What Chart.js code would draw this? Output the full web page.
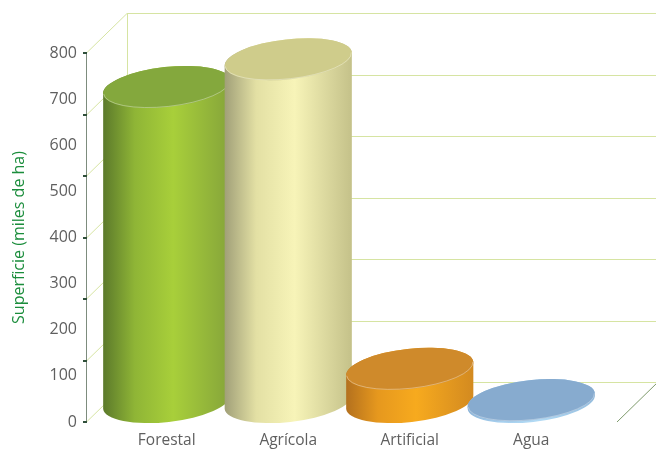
<!DOCTYPE html>
<html>
<head>
<meta charset="utf-8">
<script src="https://cdn.jsdelivr.net/npm/chart.js@4.4.1/dist/chart.umd.min.js"></script>
<style>
  body { margin: 0; background: #fff; }
</style>
</head>
<body>
<canvas id="chart" width="656" height="450"></canvas>
<script>
// data
const categories = ['Forestal', 'Agrícola', 'Artificial', 'Agua'];
const superficie = [683, 743, 72, 4];   // miles de ha
const yMax = 800;
const yStep = 100;
const gridSteps = 6;                     // back-wall grid divisions

// cylinder colours: [left, mid, highlight, right] for the side, plus the lid
const sideColors = [
    ['#5b792b', '#8fb536', '#a8cf3a', '#85a43a'],
    ['#a09f78', '#e3e0a4', '#f7f4b8', '#c4c189'],
    ['#b3701e', '#e6981e', '#f7aa1e', '#d38a20'],
    ['#8db6da', '#a6cfee', '#b2daf4', '#96bfe0']
];
const topColors = ['#84a83d', '#cfcc8b', '#cf8a2b', '#87abcf'];

const depthX = 41, depthY = 40;   // 3d offset of the back wall
const ry = 20;                     // half height of the ellipses
const tilt = -0.11;                // perspective tilt of the ellipses

function line(ctx, x1, y1, x2, y2) {
    ctx.beginPath();
    ctx.moveTo(x1, y1);
    ctx.lineTo(x2, y2);
    ctx.stroke();
}

function drawCylinder(ctx, cx, yTop, yBase, rx, side, lid) {
    const cTop = yTop - ry, cBot = yBase - ry;
    const dx = rx * Math.cos(tilt), dy = rx * Math.sin(tilt);

    const g = ctx.createLinearGradient(cx - rx, 0, cx + rx, 0);
    g.addColorStop(0, side[0]);
    g.addColorStop(0.25, side[1]);
    g.addColorStop(0.55, side[2]);
    g.addColorStop(1, side[3]);

    ctx.beginPath();
    ctx.moveTo(cx - dx, cTop - dy);
    ctx.lineTo(cx - dx, cBot - dy);
    ctx.ellipse(cx, cBot, rx, ry, tilt, Math.PI, 0, true);
    ctx.lineTo(cx + dx, cTop + dy);
    ctx.ellipse(cx, cTop, rx, ry, tilt, 0, Math.PI, true);
    ctx.closePath();
    ctx.fillStyle = g;
    ctx.fill();

    ctx.beginPath();
    ctx.ellipse(cx, cTop, rx, ry, tilt, 0, Math.PI * 2);
    ctx.fillStyle = lid;
    ctx.fill();

    // light rim on the front edge of the lid
    ctx.beginPath();
    ctx.ellipse(cx, cTop, rx - 0.5, ry - 0.5, tilt, 0, Math.PI);
    ctx.strokeStyle = 'rgba(255,255,255,0.35)';
    ctx.lineWidth = 1;
    ctx.stroke();
}

const cylinderPlugin = {
    id: 'cylinders',
    beforeDatasetsDraw(chart) {
        const { ctx, chartArea: a, scales: { y } } = chart;
        const axisX = a.left - 20, rightX = a.right + 25;
        const y0 = y.getPixelForValue(0), yTop = y.getPixelForValue(yMax);
        ctx.save();
        ctx.lineWidth = 1;
        ctx.strokeStyle = '#d6e4a2';
        for (let k = 0; k <= gridSteps; k++) {
            const py = Math.round(y.getPixelForValue(yMax * k / gridSteps)) + 0.5;
            line(ctx, axisX, py, axisX + depthX, py - depthY);
            line(ctx, axisX + depthX, py - depthY, rightX + depthX + 10, py - depthY);
        }
        line(ctx, axisX + depthX + 0.5, y0 - depthY, axisX + depthX + 0.5, yTop - depthY);

        // floor right edge
        ctx.strokeStyle = '#7e9a6c';
        line(ctx, rightX, y0, rightX + depthX, y0 - depthY);

        // front value axis with its tick marks
        ctx.strokeStyle = '#7d8c7d';
        line(ctx, axisX + 0.5, y0, axisX + 0.5, yTop);
        ctx.strokeStyle = '#2f4f3a';
        ctx.lineWidth = 2;
        for (let k = 0; k <= gridSteps; k++) {
            const py = Math.round(y.getPixelForValue(yMax * k / gridSteps));
            line(ctx, axisX - 3, py, axisX + 1, py);
        }
        ctx.restore();
    },
    afterDatasetsDraw(chart) {
        const { ctx } = chart;
        const meta = chart.getDatasetMeta(0);
        ctx.save();
        meta.data.forEach((bar, i) => {
            drawCylinder(ctx, bar.x, bar.y, bar.base, bar.width / 2, sideColors[i], topColors[i]);
        });
        ctx.restore();
    }
};

new Chart(document.getElementById('chart').getContext('2d'), {
    type: 'bar',
    data: {
        labels: categories,
        datasets: [{
            label: 'Superficie',
            data: superficie,
            backgroundColor: 'rgba(0,0,0,0)',
            borderWidth: 0,
            categoryPercentage: 1,
            barPercentage: 1.053
        }]
    },
    options: {
        responsive: false,
        animation: false,
        layout: { padding: { top: 53, right: 64, left: 0, bottom: 0 } },
        plugins: {
            legend: { display: false },
            tooltip: { enabled: false }
        },
        scales: {
            x: {
                grid: { display: false, drawTicks: false },
                border: { display: false },
                ticks: {
                    color: '#5f5f5f',
                    padding: 9,
                    font: { family: 'Open Sans', size: 15.5 }
                },
                afterFit(s) { s.height = 28; }
            },
            y: {
                min: 0,
                max: yMax,
                grid: { display: false, drawTicks: false },
                border: { display: false },
                ticks: {
                    stepSize: yStep,
                    color: '#5f5f5f',
                    padding: 29,
                    font: { family: 'Open Sans', size: 16 }
                },
                title: {
                    display: true,
                    text: 'Superficie (miles de ha)',
                    color: '#1b8d3c',
                    padding: { top: 10, bottom: 0 },
                    font: { family: 'Open Sans', size: 16 }
                },
                afterFit(s) {
                    s.width = 106;
                    s.paddingTop = 8;
                    s.paddingBottom = 8;
                }
            }
        }
    },
    plugins: [cylinderPlugin]
});
</script>
</body>
</html>
